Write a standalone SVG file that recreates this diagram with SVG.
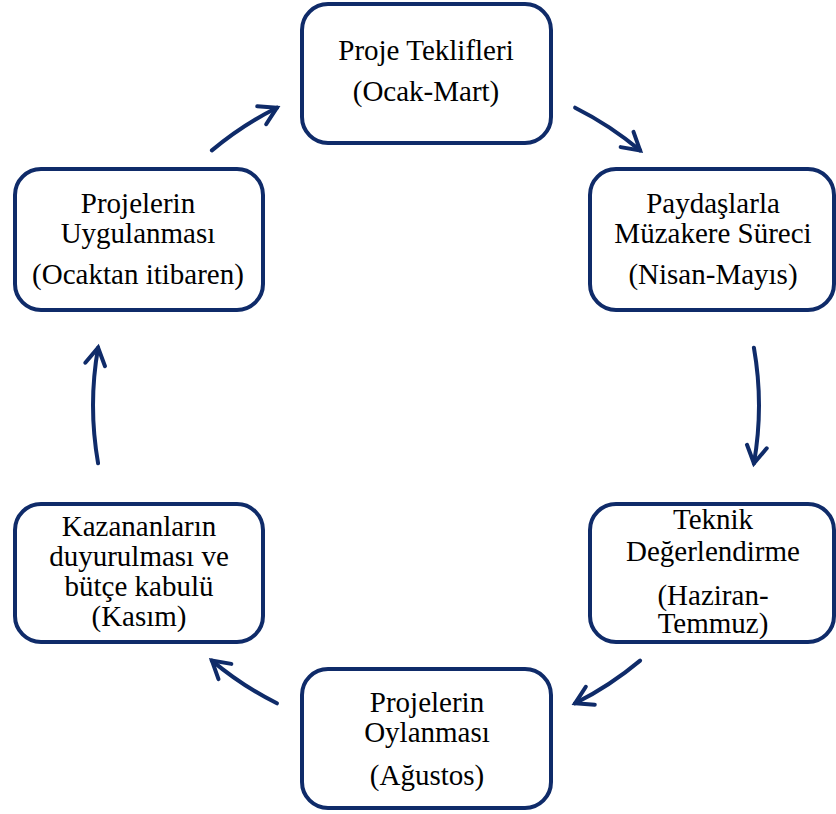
<svg xmlns="http://www.w3.org/2000/svg" width="836" height="814" viewBox="0 0 836 814">
<style>
.box{fill:#ffffff;stroke:#0f2b69;stroke-width:4}
.t{font-family:"Liberation Serif","Times New Roman",serif;font-size:29px;fill:#000000;text-anchor:middle}
.c{fill:none;stroke:#0f2b69;stroke-width:4;stroke-linecap:round}
</style>
<defs>
<marker id="ah" markerUnits="userSpaceOnUse" markerWidth="40" markerHeight="40" viewBox="-25 -20 40 40" refX="0" refY="0" orient="auto">
<path d="M-17,-10 L0,0 L-17,10" fill="none" stroke="#0f2b69" stroke-width="4" stroke-linecap="round" stroke-linejoin="miter"/>
</marker>
</defs>
<rect width="836" height="814" fill="#ffffff"/>
<g id="connectors">
<path class="c" marker-end="url(#ah)" d="M211.9,150.4 A333,333 0 0 1 276.9,107.7"/>
<path class="c" marker-end="url(#ah)" d="M575.1,107.7 A333,333 0 0 1 640.1,150.4"/>
<path class="c" marker-end="url(#ah)" d="M753.9,347.7 A333,333 0 0 1 753.9,463.3"/>
<path class="c" marker-end="url(#ah)" d="M640.1,660.6 A333,333 0 0 1 575.1,703.3"/>
<path class="c" marker-end="url(#ah)" d="M276.9,703.3 A333,333 0 0 1 211.9,660.6"/>
<path class="c" marker-end="url(#ah)" d="M98.1,463.3 A333,333 0 0 1 98.1,347.7"/>
</g>
<g id="node-proje-teklifleri">
<rect class="box" x="302" y="4" width="249" height="139" rx="26"/>
<text class="t" x="426" y="60">Proje Teklifleri</text>
<text class="t" x="426" y="101">(Ocak-Mart)</text>
</g>
<g id="node-paydaslarla">
<rect class="box" x="590" y="169" width="244" height="141" rx="26"/>
<text class="t" x="713" y="213">Paydaşlarla</text>
<text class="t" x="713" y="243">Müzakere Süreci</text>
<text class="t" x="713" y="284">(Nisan-Mayıs)</text>
</g>
<g id="node-teknik">
<rect class="box" x="590" y="504" width="244" height="138" rx="26"/>
<text class="t" x="713" y="529">Teknik</text>
<text class="t" x="713" y="561">Değerlendirme</text>
<text class="t" x="713" y="605">(Haziran-</text>
<text class="t" x="713" y="633">Temmuz)</text>
</g>
<g id="node-oylanmasi">
<rect class="box" x="302" y="669" width="249" height="139" rx="26"/>
<text class="t" x="427" y="712">Projelerin</text>
<text class="t" x="427" y="742">Oylanması</text>
<text class="t" x="427" y="785">(Ağustos)</text>
</g>
<g id="node-kazananlar">
<rect class="box" x="15" y="504" width="248" height="138" rx="26"/>
<text class="t" x="139" y="536">Kazananların</text>
<text class="t" x="139" y="566">duyurulması ve</text>
<text class="t" x="139" y="596">bütçe kabulü</text>
<text class="t" x="139" y="626">(Kasım)</text>
</g>
<g id="node-uygulanmasi">
<rect class="box" x="15" y="169" width="248" height="141" rx="26"/>
<text class="t" x="138" y="213">Projelerin</text>
<text class="t" x="138" y="243">Uygulanması</text>
<text class="t" x="138" y="284">(Ocaktan itibaren)</text>
</g>
</svg>
